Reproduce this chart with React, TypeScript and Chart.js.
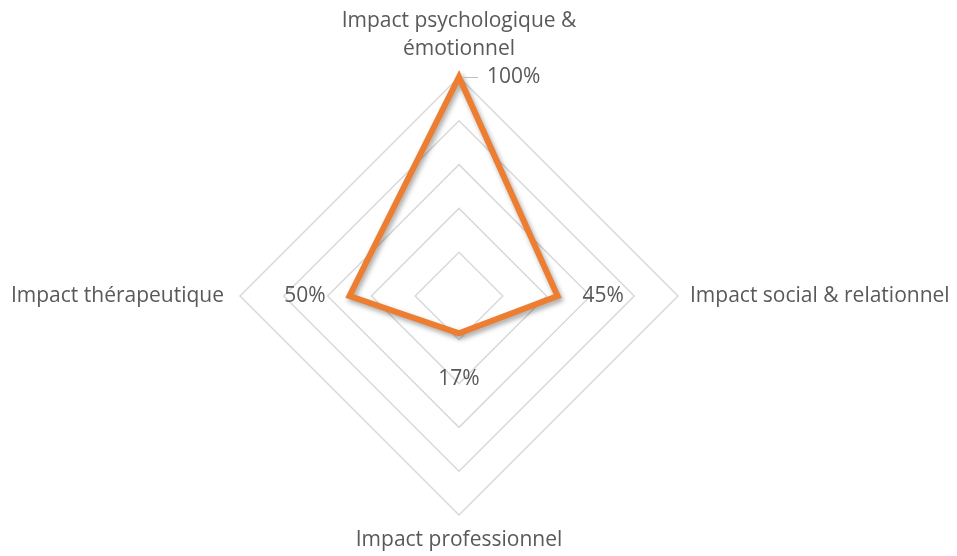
import React, { useEffect, useRef } from "react";
import { Chart, registerables } from "chart.js";

Chart.register(...registerables);

const categories: string[][] = [
  ["Impact psychologique &", "émotionnel"],
  ["Impact social & relationnel"],
  ["Impact professionnel"],
  ["Impact thérapeutique"],
];
const seriesValues = [100, 45, 17, 50];
const valueLabels = ["100%", "45%", "17%", "50%"];
const tickValues = [0, 20, 40, 60, 80, 100];

const FONT = "'Open Sans', sans-serif";
const TEXT = "#595959";
const FS = 21;

const shadowPlugin = {
  id: "shadow",
  beforeDatasetsDraw(chart: any) {
    const ctx = chart.ctx;
    ctx.save();
    ctx.shadowColor = "rgba(0,0,0,0.35)";
    ctx.shadowBlur = 5;
    ctx.shadowOffsetX = 2;
    ctx.shadowOffsetY = 3;
  },
  afterDatasetsDraw(chart: any) {
    chart.ctx.restore();
  },
};

const labelsPlugin = {
  id: "textLabels",
  afterDraw(chart: any) {
    const ctx = chart.ctx;
    const scale = chart.scales.r;
    const meta = chart.getDatasetMeta(0);
    const R = scale.drawingArea;
    ctx.save();
    ctx.font = `${FS}px ${FONT}`;
    ctx.fillStyle = TEXT;
    ctx.textBaseline = "middle";

    // category labels around the rings
    categories.forEach((lines, i) => {
      if (i === 0) {
        const p = scale.getPointPosition(i, R);
        ctx.textAlign = "center";
        const n = lines.length;
        lines.forEach((ln, k) => {
          ctx.fillText(ln, p.x, p.y - 28 - (n - 1 - k) * 28);
        });
      } else if (i === 1) {
        const p = scale.getPointPosition(i, R + 12);
        ctx.textAlign = "left";
        ctx.fillText(lines[0], p.x, p.y);
      } else if (i === 2) {
        const p = scale.getPointPosition(i, R + 25);
        ctx.textAlign = "center";
        ctx.fillText(lines[0], p.x, p.y);
      } else {
        const p = scale.getPointPosition(i, R + 16);
        ctx.textAlign = "right";
        ctx.fillText(lines[0], p.x, p.y);
      }
    });

    // axis tick at 100%
    const top = scale.getPointPositionForValue(0, tickValues[tickValues.length - 1]);
    ctx.strokeStyle = "#bfbfbf";
    ctx.lineWidth = 1;
    ctx.beginPath();
    ctx.moveTo(top.x + 3, top.y + 0.5);
    ctx.lineTo(top.x + 19, top.y + 0.5);
    ctx.stroke();

    // data labels
    meta.data.forEach((pt: any, i: number) => {
      const txt = valueLabels[i];
      if (i === 0) {
        ctx.textAlign = "left";
        ctx.fillText(txt, pt.x + 28, pt.y);
      } else if (i === 1) {
        ctx.textAlign = "left";
        ctx.fillText(txt, pt.x + 25, pt.y);
      } else if (i === 2) {
        ctx.textAlign = "center";
        ctx.fillText(txt, pt.x, pt.y + 46);
      } else {
        ctx.textAlign = "right";
        ctx.fillText(txt, pt.x - 24, pt.y);
      }
    });
    ctx.restore();
  },
};

export default function App() {
  const ref = useRef<HTMLCanvasElement>(null);
  useEffect(() => {
    if (!ref.current) return;
    const chart = new Chart(ref.current, {
      type: "radar",
      data: {
        labels: categories.map((c) => c.join(" ")),
        datasets: [
          {
            data: seriesValues,
            borderColor: "#ED7D31",
            borderWidth: 6,
            backgroundColor: "rgba(0,0,0,0)",
            fill: false,
            pointRadius: 0,
            borderJoinStyle: "miter",
          } as any,
        ],
      },
      options: {
        animation: false,
        responsive: true,
        maintainAspectRatio: false,
        layout: { padding: { top: 77, bottom: 40, left: 0, right: 39 } },
        plugins: { legend: { display: false }, tooltip: { enabled: false } },
        scales: {
          r: {
            min: 0,
            max: 100,
            ticks: { display: false, stepSize: 20 },
            grid: { color: "#d9d9d9", lineWidth: 1.5 },
            angleLines: { display: false },
            pointLabels: { display: false },
          },
        },
      },
      plugins: [shadowPlugin, labelsPlugin],
    });
    return () => chart.destroy();
  }, []);
  return (
    <div style={{ position: "absolute", left: 0, top: 0, width: 957, height: 556 }}>
      <canvas ref={ref} />
    </div>
  );
}
